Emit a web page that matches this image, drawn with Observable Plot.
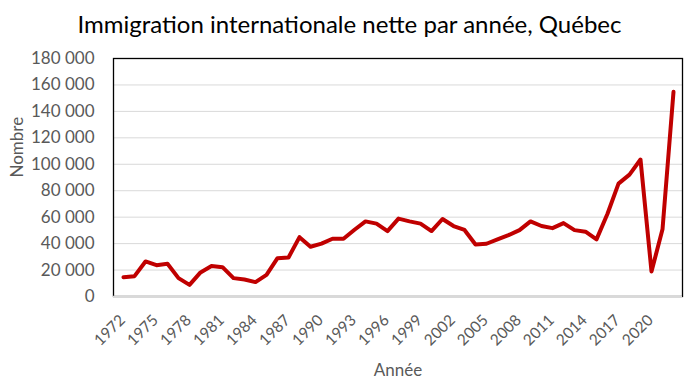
<!DOCTYPE html>
<html>
<head>
<meta charset="utf-8">
<script src="https://cdn.jsdelivr.net/npm/d3@7"></script>
<script src="https://cdn.jsdelivr.net/npm/@observablehq/plot@0.6"></script>
<style>
  body { margin: 0; background: #fff; }
  #title { width: 699px; height: 44px; line-height: 47px; text-align: center; font-family: Lato, sans-serif; font-size: 24px; color: #000; }
</style>
</head>
<body>
<div id="title">Immigration internationale nette par année, Québec</div>
<div id="chart"></div>
<script>
const years = [1972,1973,1974,1975,1976,1977,1978,1979,1980,1981,1982,1983,1984,1985,1986,1987,1988,1989,1990,1991,1992,1993,1994,1995,1996,1997,1998,1999,2000,2001,2002,2003,2004,2005,2006,2007,2008,2009,2010,2011,2012,2013,2014,2015,2016,2017,2018,2019,2020,2021,2022];
const values = [14600,15400,26500,23700,24700,13900,8800,18200,23000,22200,13900,12900,10900,16400,29000,29500,44900,37600,40000,43700,43700,50500,56800,55100,49500,58900,56800,55100,49500,58600,53300,50300,39300,39900,43200,46400,50200,56800,53300,51700,55500,50200,49000,43200,62600,85400,92200,103600,18900,50800,154800];
const xTickYears = [1972,1975,1978,1981,1984,1987,1990,1993,1996,1999,2002,2005,2008,2011,2014,2017,2020];
const yTicks = [0,20000,40000,60000,80000,100000,120000,140000,160000,180000];
const gridValues = [20000,40000,60000,80000,100000,120000,140000,160000];
const yTitle = "Nombre";
const xTitle = "Année";

const data = years.map((y, i) => ({year: y, value: values[i]}));
const fmt = d3.formatLocale({thousands: " ", grouping: [3], decimal: ",", currency: ["", ""]}).format(",");

const chart = Plot.plot({
  width: 699,
  height: 346,
  marginTop: 14,
  marginBottom: 94,
  marginLeft: 113,
  marginRight: 17,
  style: {fontFamily: "Lato, sans-serif", background: "#fff"},
  x: {type: "point", domain: years, padding: 0.5},
  y: {domain: [0, 180000]},
  marks: [
    Plot.ruleY(gridValues, {stroke: "#d9d9d9", strokeWidth: 1, strokeOpacity: 1}),
    Plot.frame({stroke: "#000", strokeWidth: 1.3}),
    Plot.ruleY([0], {stroke: "#d9d9d9", strokeWidth: 1.5, strokeOpacity: 1}),
    Plot.axisY({ticks: yTicks, tickFormat: fmt, tickSize: 0, tickPadding: 19, fontSize: 17, color: "#595959", label: null}),
    Plot.axisX({ticks: xTickYears, tickFormat: d => String(d), tickSize: 0, tickRotate: -45, tickPadding: 6, dy: 15, dx: -1, fontSize: 15.5, color: "#595959", label: null}),
    Plot.text([yTitle], {frameAnchor: "left", rotate: -90, dx: -96, fontSize: 17, fill: "#595959", lineAnchor: "middle"}),
    Plot.text([xTitle], {frameAnchor: "bottom", dy: 74, fontSize: 17, fill: "#595959", lineAnchor: "middle"}),
    Plot.line(data, {x: "year", y: "value", stroke: "#c00000", strokeWidth: 4, strokeLinejoin: "round", strokeLinecap: "round"})
  ]
});
document.getElementById("chart").appendChild(chart);
</script>
</body>
</html>
